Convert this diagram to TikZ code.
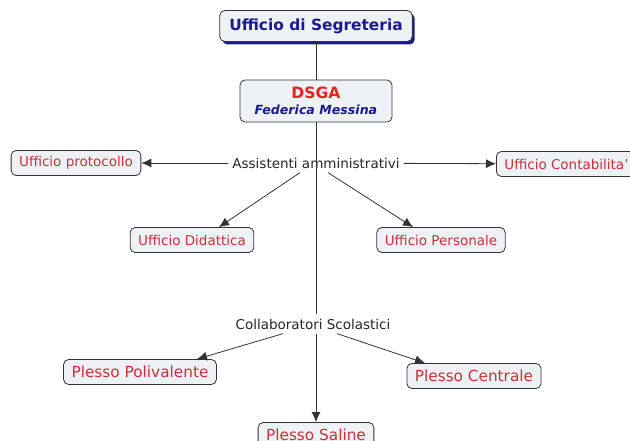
\documentclass[tikz,border=0pt]{standalone}
\usepackage{fontspec}
\setmainfont{DejaVu Sans}
\usetikzlibrary{arrows.meta,shadows}

\definecolor{boxfill}{HTML}{EEF2F5}
\definecolor{boxline}{HTML}{333333}
\definecolor{conceptred}{HTML}{C8323C}
\definecolor{titleblue}{HTML}{1B1B8F}
\definecolor{dsgared}{HTML}{E42420}

\tikzset{
  concept/.style={draw=boxline,fill=boxfill,rounded corners=5pt,line width=0.8pt,
    text=conceptred,inner xsep=8pt,minimum height=25pt,
    font=\fontsize{13.5}{16}\selectfont},
  plesso/.style={concept,font=\fontsize{15.3}{18}\selectfont},
  linkword/.style={inner sep=4pt,text=black!85,font=\fontsize{13.5}{16}\selectfont},
}

\begin{document}
\begin{tikzpicture}[x=1pt,y=-1pt,->,>={Latex[length=10pt,width=9pt]},line width=0.8pt,draw=boxline]

\useasboundingbox (0,0) rectangle (630,441);

\node (seg) at (316,26) [concept,text=titleblue,minimum height=31pt,inner xsep=9.5pt,
  font=\bfseries\fontsize{15.4}{18}\selectfont,
  drop shadow={shadow xshift=2.5pt,shadow yshift=-3pt,fill=titleblue,opacity=1}]
  {Ufficio di Segreteria};
\node (dsga) at (316,101) [concept,minimum width=152pt,minimum height=42pt,align=center,inner ysep=2pt]
  {{\color{dsgared}\bfseries\fontsize{15.6}{17}\selectfont DSGA}\\
   {\color{titleblue}\bfseries\itshape\fontsize{12.6}{15}\selectfont Federica Messina}};

\node (assist) at (316,163) [linkword] {Assistenti amministrativi};
\node (prot) at (76,163) [concept] {Ufficio protocollo};
\node (cont) at (496,164) [concept,anchor=west] {Ufficio Contabilita'};
\node (did) at (192,240) [concept] {Ufficio Didattica};
\node (pers) at (441,240) [concept] {Ufficio Personale};

\node (coll) at (313,324) [linkword] {Collaboratori Scolastici};
\node (pol) at (140,372) [plesso] {Plesso Polivalente};
\node (cent) at (474,376) [plesso] {Plesso Centrale};
\node (sal) at (316,435) [plesso] {Plesso Saline};

\path [-]
    (seg) edge (dsga)
    (dsga.south) edge ([xshift=3pt]coll.north)
;
\path [->]
    (assist) edge (prot)
    (assist) edge (cont)
    ([xshift=-16pt]assist.south) edge ([xshift=27pt]did.north)
    ([xshift=12pt]assist.south) edge ([xshift=-28pt]pers.north)
    ([xshift=-30pt]coll.south) edge ([xshift=57pt]pol.north)
    ([xshift=24pt]coll.south) edge ([xshift=-49pt]cent.north)
    ([xshift=3pt]coll.south) edge (sal)
;

\end{tikzpicture}
\end{document}
